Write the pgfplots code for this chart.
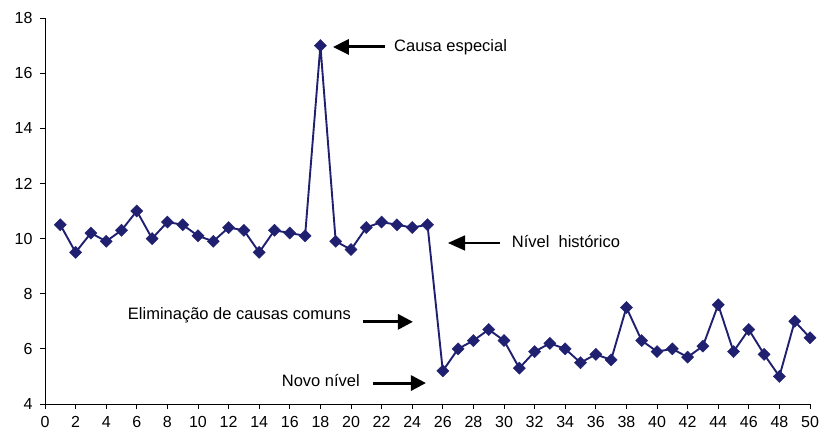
\documentclass[border=0pt]{standalone}
\usepackage{fontspec}
\setmainfont{Liberation Sans}
\usepackage{pgfplots}
\pgfplotsset{compat=1.18}
\usetikzlibrary{arrows.meta,calc}
\definecolor{navy}{RGB}{32,32,112}
\begin{document}
\begin{tikzpicture}
\begin{axis}[
  scale only axis, width=765pt, height=386pt,
  xmin=0, xmax=50, ymin=4, ymax=18,
  axis lines*=left,
  xtick={0,2,...,50}, ytick={4,6,...,18},
  tick align=outside, major tick length=5pt,
  tick style={black, line width=0.8pt},
  axis line style={black, line width=0.8pt},
  ticklabel style={font=\fontsize{16}{19}\selectfont},
  /pgf/number format/assume math mode=true,
  xticklabel style={yshift=-4pt},
  yticklabel style={xshift=-4pt},
  clip=false,
]
\addplot[navy, line width=1.9pt, mark=square*, mark size=4.3pt,
  mark options={rotate=45, fill=navy, line width=0.4pt}] coordinates {
(1,10.5) (2,9.5) (3,10.2) (4,9.9) (5,10.3) (6,11.0) (7,10.0) (8,10.6) (9,10.5) (10,10.1)
(11,9.9) (12,10.4) (13,10.3) (14,9.5) (15,10.3) (16,10.2) (17,10.1) (18,17.0) (19,9.9) (20,9.6)
(21,10.4) (22,10.6) (23,10.5) (24,10.4) (25,10.5) (26,5.2) (27,6.0) (28,6.3) (29,6.7) (30,6.3)
(31,5.3) (32,5.9) (33,6.2) (34,6.0) (35,5.5) (36,5.8) (37,5.6) (38,7.5) (39,6.3) (40,5.9)
(41,6.0) (42,5.7) (43,6.1) (44,7.6) (45,5.9) (46,6.7) (47,5.8) (48,5.0) (49,7.0) (50,6.4)
};
\coordinate (bl) at (rel axis cs:0,0);
\coordinate (tr) at (rel axis cs:1,1);
% annotations
\draw[-{Triangle[length=16pt,width=15pt]}, line width=3pt] (axis cs:22.22,16.95) -- (axis cs:18.82,16.95);
\node[anchor=base west, inner sep=0pt, font=\fontsize{16.5}{19}\selectfont] at (axis cs:22.81,16.80) {Causa especial};
\draw[-{Triangle[length=17pt,width=15pt]}, line width=1.5pt] (axis cs:29.74,9.84) -- (axis cs:26.34,9.84);
\node[anchor=base west, inner sep=0pt, font=\fontsize{16.5}{19}\selectfont] at (axis cs:30.5,9.66) {Nível\ \ histórico};
\node[anchor=base east, inner sep=0pt, font=\fontsize{16.5}{19}\selectfont] at (axis cs:20.0,7.08) {Eliminação de causas comuns};
\draw[-{Triangle[length=15pt,width=15pt]}, line width=3pt] (axis cs:20.78,6.98) -- (axis cs:24.05,6.98);
\node[anchor=base east, inner sep=0pt, font=\fontsize{16.5}{19}\selectfont] at (axis cs:20.59,4.65) {Novo nível};
\draw[-{Triangle[length=15pt,width=15pt]}, line width=3pt] (axis cs:21.44,4.76) -- (axis cs:24.9,4.76);
\end{axis}
\pgfresetboundingbox
\path ($(bl)+(-45pt,-32pt)$) rectangle ($(tr)+(9pt,18pt)$);
\end{tikzpicture}
\end{document}
